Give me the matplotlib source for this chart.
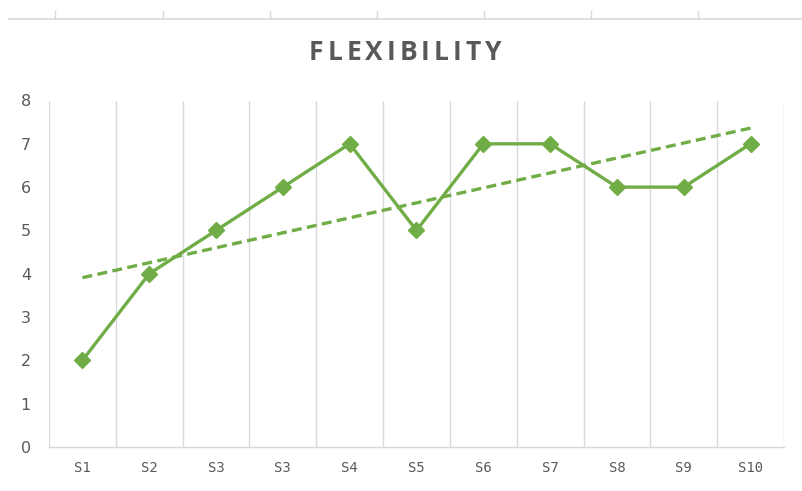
import numpy as np
import matplotlib.pyplot as plt
from matplotlib.lines import Line2D

categories = ['S1', 'S2', 'S3', 'S3', 'S4', 'S5', 'S6', 'S7', 'S8', 'S9', 'S10']
flexibility = [2, 4, 5, 6, 7, 5, 7, 7, 6, 6, 7]
y_ticks = [0, 1, 2, 3, 4, 5, 6, 7, 8]
title = 'FLEXIBILITY'

green = '#70AD47'
grid_gray = '#D9D9D9'
text_gray = '#595959'

fig = plt.figure(figsize=(8.03, 4.91), dpi=100)
ax = fig.add_axes([49 / 803, 1 - 447 / 491, (784 - 49) / 803, (447 - 100.5) / 491])

x = np.arange(1, len(flexibility) + 1)
ax.plot(x, flexibility, color=green, lw=2.4, marker='D', ms=8, zorder=3)

# linear trendline
k, b = np.polyfit(x, flexibility, 1)
ax.plot(x, k * x + b, color=green, lw=2.4, ls=(0, (3, 1.6)), zorder=2)

ax.set_xlim(0.5, len(flexibility) + 0.5)
ax.set_ylim(0, 8)
ax.set_yticks(y_ticks)
ax.set_xticks(x)
ax.set_xticklabels(categories)

# vertical gridlines between categories
for xv in np.arange(0.5, len(flexibility) + 1):
    ax.axvline(xv, color=grid_gray, lw=1, zorder=1)

for s in ['top', 'right', 'left']:
    ax.spines[s].set_visible(False)
ax.spines['bottom'].set_color(grid_gray)
ax.spines['bottom'].set_linewidth(1)
ax.tick_params(axis='both', length=0, colors=text_gray)
ax.tick_params(axis='y', labelsize=11.5, pad=13)
ax.tick_params(axis='x', labelsize=10, pad=10)
for lbl in ax.get_xticklabels():
    lbl.set_family('DejaVu Sans Mono')

# title with letter spacing: place each letter by its measured width
renderer = fig.canvas.get_renderer()
spacing = 4.0
chars = []
for ch in title:
    t = fig.text(0, 1 - 52 / 491, ch, ha='left', va='center', fontsize=19,
                 fontweight='bold', color=text_gray, family='Open Sans')
    chars.append((t, t.get_window_extent(renderer).width))
total = sum(w for _, w in chars) + spacing * (len(chars) - 1)
px = 405 - total / 2
for t, w in chars:
    t.set_x(px / 803)
    px += w + spacing

# thin rule with ticks along the top
fig.add_artist(Line2D([9 / 803, 1], [1 - 19 / 491] * 2, color=grid_gray, lw=1.2))
for tx in [55, 163, 270, 377, 484, 591, 698]:
    fig.add_artist(Line2D([tx / 803] * 2, [1 - 11 / 491, 1 - 19 / 491], color=grid_gray, lw=1))

fig.savefig('out.png', dpi=100, facecolor='white')
